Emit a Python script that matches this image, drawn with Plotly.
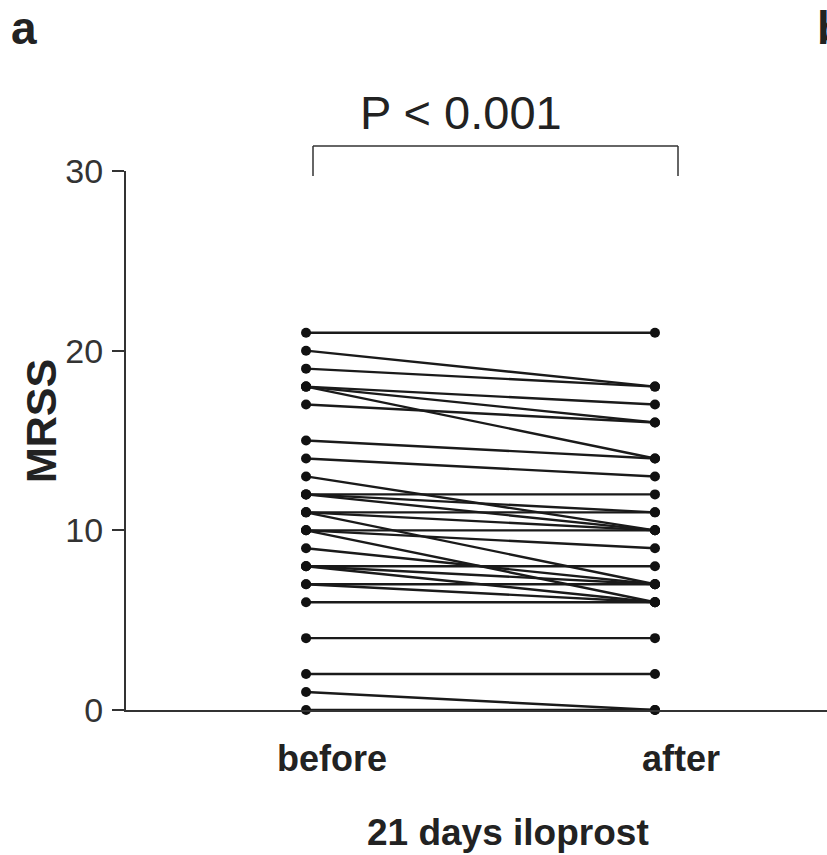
import plotly.graph_objects as go

# Data: paired MRSS values per patient (before / after 21 days iloprost)
categories = ["before", "after"]
before = [21, 20, 19, 18, 18, 18, 17, 15, 14, 13, 12, 12, 12, 11, 11, 11, 10, 10, 10, 9, 8, 8, 8, 7, 7, 6, 4, 2, 1, 0]
after = [21, 18, 18, 17, 16, 14, 16, 14, 13, 10, 12, 11, 10, 11, 10, 7, 10, 9, 6, 7, 8, 7, 6, 7, 6, 6, 4, 2, 0, 0]
y_ticks = [0, 10, 20, 30]

W, H = 827, 855
L, T, B = 126, 171, 145

xs, ys = [], []
for b, a in zip(before, after):
    xs += [1, 2, None]
    ys += [b, a, None]

fig = go.Figure()
fig.add_trace(go.Scatter(
    x=xs, y=ys, mode="lines+markers",
    line=dict(color="#1a1a1a", width=2.4),
    marker=dict(color="#111111", size=10),
    cliponaxis=False, showlegend=False, hoverinfo="skip",
))

FONT = "Liberation Sans, Arial, sans-serif"
fig.update_layout(
    width=W, height=H,
    margin=dict(l=L, r=0, t=T, b=B, pad=0),
    paper_bgcolor="white", plot_bgcolor="white",
    font=dict(family=FONT, color="#222"),
    xaxis=dict(
        range=[0.484, 2.493], tickvals=[1, 2],
        ticktext=["<b>" + c + "</b>" for c in categories],
        ticks="", showgrid=False, zeroline=False,
        showline=True, linecolor="#333", linewidth=2,
        tickfont=dict(size=36, color="#222", family=FONT),
        ticklabelshift=26, ticklabelstandoff=16,
    ),
    yaxis=dict(
        range=[0, 30], tickvals=y_ticks, ticks="outside", ticklen=12,
        tickwidth=2, tickcolor="#333",
        showgrid=False, zeroline=False,
        showline=True, linecolor="#333", linewidth=2,
        tickfont=dict(size=34, color="#333", family=FONT),
        ticklabelstandoff=2,
    ),
)

def px2paper(px, py):
    return (px - L) / (W - L), (H - B - py) / (H - T - B)

annotations = []
# y axis title
x0, y0 = px2paper(41, 421)
annotations.append(dict(text="<b>MRSS</b>", x=x0, y=y0, xref="paper", yref="paper",
                        textangle=-90, showarrow=False, font=dict(size=43, color="#222"),
                        xanchor="center", yanchor="middle"))
# x axis title
x0, y0 = px2paper(508, 832)
annotations.append(dict(text="<b>21 days iloprost</b>", x=x0, y=y0, xref="paper", yref="paper",
                        showarrow=False, font=dict(size=37, color="#222"),
                        xanchor="center", yanchor="middle"))
# p-value
x0, y0 = px2paper(461, 113)
annotations.append(dict(text="P < 0.001", x=x0, y=y0, xref="paper", yref="paper",
                        showarrow=False, font=dict(size=47, color="#222"),
                        xanchor="center", yanchor="middle"))
# panel letters
x0, y0 = px2paper(24, 0)
annotations.append(dict(text="<b>a</b>", x=x0, y=y0, xref="paper", yref="paper",
                        showarrow=False, font=dict(size=46, color="#222"),
                        xanchor="center", yanchor="top"))
x0, y0 = px2paper(815, 0)
annotations.append(dict(text="<b>b</b>", x=x0, y=y0, xref="paper", yref="paper",
                        showarrow=False, font=dict(size=46, color="#222"),
                        xanchor="left", yanchor="top"))
fig.update_layout(annotations=annotations)

# significance bracket
bx0, by_top = px2paper(313, 146)
bx1, by_bot = px2paper(678, 176)
for (xa, ya, xb, yb) in [(bx0, by_top, bx1, by_top), (bx0, by_top, bx0, by_bot), (bx1, by_top, bx1, by_bot)]:
    fig.add_shape(type="line", xref="paper", yref="paper", x0=xa, y0=ya, x1=xb, y1=yb,
                  line=dict(color="#333", width=1.5))

fig.write_html("out.html")
